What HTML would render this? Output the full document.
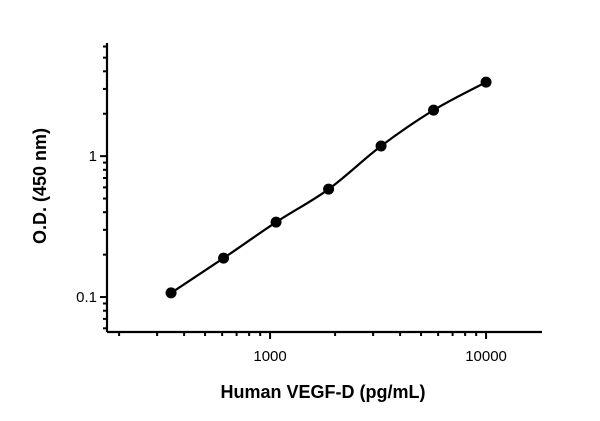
<!DOCTYPE html>
<html><head><meta charset="utf-8"><style>
body{margin:0;background:#fff;width:600px;height:421px;overflow:hidden}
svg{display:block;font-family:"Liberation Sans",Arial,sans-serif}
</style></head><body>
<svg id="chart" width="600" height="421" viewBox="0 0 600 421">
<g id="axes"></g>
<g id="series"></g>
<text x="323" y="398" text-anchor="middle" font-size="18" font-weight="bold" fill="#000">Human VEGF-D (pg/mL)</text>
<text transform="translate(46,186) rotate(-90)" text-anchor="middle" font-size="18" font-weight="bold" fill="#000">O.D. (450 nm)</text>
</svg>
<script>
const concentrations = [348, 609, 1066, 1866, 3265, 5714, 10000];
const odValues = [0.107, 0.189, 0.340, 0.583, 1.18, 2.12, 3.35];
const xTickLabels = ["1000", "10000"];
const xTickValues = [1000, 10000];
const yTickLabels = ["0.1", "1"];
const yTickValues = [0.1, 1];

const NS = "http://www.w3.org/2000/svg";
const X0 = 107, X1 = 542, Y0 = 332, Y1 = 43;
const xLogMin = 2.245, xLogMax = 4.259;
const yLogMin = -1.248, yLogMax = 0.803;
function xs(v){return X0 + (Math.log10(v) - xLogMin) / (xLogMax - xLogMin) * (X1 - X0);}
function ys(v){return Y0 - (Math.log10(v) - yLogMin) / (yLogMax - yLogMin) * (Y0 - Y1);}
function mk(tag, attrs, parent){const e=document.createElementNS(NS,tag);for(const k in attrs)e.setAttribute(k,attrs[k]);parent.appendChild(e);return e;}
const axes = document.getElementById('axes');
const series = document.getElementById('series');

let a = mk('line',{x1:X0,y1:Y0,x2:X1,y2:Y0,stroke:'#000','stroke-width':2.2},axes);


a = mk('line',{x1:X0,y1:Y0,x2:X0,y2:Y1,stroke:'#000','stroke-width':2.2},axes);



for (let d = 100; d <= 10000; d *= 10) {
  for (let m = 1; m <= 9; m++) {
    const v = d * m;
    const px = xs(v);
    if (px < X0 + 2 || px > X1) continue;
    const major = m === 1;
    const t = mk('line',{x1:px,y1:Y0,x2:px,y2:Y0+(major?7:4),stroke:'#000','stroke-width':2},axes);
    
    
  }
}
xTickValues.forEach((v,i)=>{
  const t = mk('text',{x:xs(v),y:Y0+29,'text-anchor':'middle','font-size':15,fill:'#000'},axes);
  t.textContent = xTickLabels[i];
  
  
});
for (let d = 0.01; d <= 1.1; d *= 10) {
  for (let m = 1; m <= 9; m++) {
    const v = d * m;
    const py = ys(v);
    if (py > Y0 - 2 || py < Y1 - 1) continue;
    const major = m === 1;
    const t = mk('line',{x1:X0,y1:py,x2:X0-(major?7:4),y2:py,stroke:'#000','stroke-width':2},axes);
    
    
  }
}
yTickValues.forEach((v,i)=>{
  const t = mk('text',{x:X0-10,y:ys(v)+5,'text-anchor':'end','font-size':15,fill:'#000'},axes);
  t.textContent = yTickLabels[i];
  
  
});

// smooth curve (Catmull-Rom through points)
const pts = concentrations.map((c,i)=>[xs(c), ys(odValues[i])]);
let dstr = 'M' + pts[0][0].toFixed(1) + ',' + pts[0][1].toFixed(1);
for (let i = 0; i < pts.length - 1; i++) {
  const p0 = pts[Math.max(0,i-1)], p1 = pts[i], p2 = pts[i+1], p3 = pts[Math.min(pts.length-1,i+2)];
  const c1 = [p1[0] + (p2[0]-p0[0])/6, p1[1] + (p2[1]-p0[1])/6];
  const c2 = [p2[0] - (p3[0]-p1[0])/6, p2[1] - (p3[1]-p1[1])/6];
  dstr += 'C' + c1[0].toFixed(1)+','+c1[1].toFixed(1)+' '+c2[0].toFixed(1)+','+c2[1].toFixed(1)+' '+p2[0].toFixed(1)+','+p2[1].toFixed(1);
}
const path = mk('path',{d:dstr,fill:'none',stroke:'#000','stroke-width':2.2,'stroke-linejoin':'round'},series);


concentrations.forEach((c,i)=>{
  const p = mk('circle',{cx:xs(c),cy:ys(odValues[i]),r:5.5,fill:'#000'},series);
  
  
});
</script>
</body></html>
